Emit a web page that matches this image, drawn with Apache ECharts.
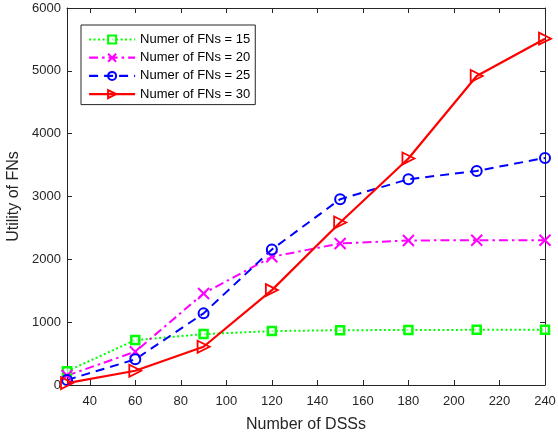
<!DOCTYPE html>
<html>
<head>
<meta charset="utf-8">
<script src="https://cdn.jsdelivr.net/npm/echarts@6/dist/echarts.min.js"></script>
<style>
html,body{margin:0;padding:0;background:#fff;}
#chart{width:558px;height:436px;}
</style>
</head>
<body>
<div id="chart"></div>
<script>
const dss = [30, 60, 90, 120, 150, 180, 210, 240];
const fn15 = [220, 715, 810, 858, 872, 875, 878, 880];
const fn20 = [150, 530, 1457, 2040, 2253, 2300, 2305, 2305];
const fn25 = [80, 408, 1140, 2157, 2957, 3275, 3407, 3614];
const fn30 = [30, 227, 609, 1510, 2586, 3604, 4918, 5512];
const xTicks = [40, 60, 80, 100, 120, 140, 160, 180, 200, 220, 240];
const seriesNames = ['Numer of FNs = 15', 'Numer of FNs = 20', 'Numer of FNs = 25', 'Numer of FNs = 30'];
const xName = 'Number of DSSs';
const yName = 'Utility of FNs';

const FONT = 'Liberation Sans, Arial, Helvetica, sans-serif';
const TXT = '#262626';

function pts(vals) { return dss.map((x, i) => [x, vals[i]]); }

const chart = echarts.init(document.getElementById('chart'), null, {renderer: 'canvas'});

const axisCommon = {
  axisLine: {show: true, onZero: false, lineStyle: {color: TXT, width: 1}},
  splitLine: {show: false}
};

const option = {
  backgroundColor: '#fff',
  animation: false,
  grid: {left: 67, right: 13, top: 8, bottom: 51, containLabel: false, outerBoundsMode: 'none'},
  legend: {
    orient: 'vertical',
    left: 81, top: 25,
    padding: [8, 5, 4, 7],
    itemWidth: 46, itemHeight: 10, itemGap: 5.2,
    borderColor: TXT, borderWidth: 1, backgroundColor: '#fff',
    lineStyle: {width: 2.2},
    textStyle: {fontFamily: FONT, fontSize: 13, color: '#000'},
    data: seriesNames
  },
  xAxis: [
    Object.assign({}, axisCommon, {
      type: 'value', min: 30, max: 240, position: 'bottom',
      axisTick: {show: true, inside: true, length: 5, customValues: xTicks, lineStyle: {color: TXT}},
      axisLabel: {customValues: xTicks, fontFamily: FONT, fontSize: 13, color: TXT, margin: 10},
      name: xName, nameLocation: 'middle', nameGap: 32,
      nameTextStyle: {fontFamily: FONT, fontSize: 16, color: TXT}
    }),
    Object.assign({}, axisCommon, {
      type: 'value', min: 30, max: 240, position: 'top',
      axisTick: {show: true, inside: true, length: 5, customValues: xTicks, lineStyle: {color: TXT}},
      axisLabel: {show: false}
    })
  ],
  yAxis: [
    Object.assign({}, axisCommon, {
      type: 'value', min: 0, max: 6000, interval: 1000, position: 'left',
      axisTick: {show: true, inside: true, length: 5, lineStyle: {color: TXT}},
      axisLabel: {fontFamily: FONT, fontSize: 13, color: TXT, margin: 6, formatter: v => String(v)},
      name: yName, nameLocation: 'middle', nameGap: 41,
      nameTextStyle: {fontFamily: FONT, fontSize: 16, color: TXT}
    }),
    Object.assign({}, axisCommon, {
      type: 'value', min: 0, max: 6000, interval: 1000, position: 'right',
      axisTick: {show: true, inside: true, length: 5, lineStyle: {color: TXT}},
      axisLabel: {show: false}
    })
  ],
  series: [
    {
      name: seriesNames[0], type: 'line', data: pts(fn15),
      symbol: 'rect', symbolSize: 8,
      itemStyle: {color: 'rgba(255,255,255,0.6)', borderColor: '#00ff00', borderWidth: 2.5},
      lineStyle: {color: '#00ff00', width: 2, type: [2, 2.5]}
    },
    {
      name: seriesNames[1], type: 'line', data: pts(fn20),
      symbol: 'path://M0,0L10,10M10,0L0,10', symbolSize: 11,
      itemStyle: {color: 'rgba(0,0,0,0)', borderColor: '#ff00ff', borderWidth: 2},
      lineStyle: {color: '#ff00ff', width: 2, type: [9, 4, 2.5, 4]}
    },
    {
      name: seriesNames[2], type: 'line', data: pts(fn25),
      symbol: 'circle', symbolSize: 10,
      itemStyle: {color: 'rgba(0,0,0,0)', borderColor: '#0000ff', borderWidth: 2},
      lineStyle: {color: '#0000ff', width: 2, type: [9, 6]}
    },
    {
      name: seriesNames[3], type: 'line', data: pts(fn30),
      symbol: 'path://M0,0L10,5L0,10Z', symbolSize: 12,
      itemStyle: {color: 'rgba(0,0,0,0)', borderColor: '#ff0000', borderWidth: 1.8},
      lineStyle: {color: '#ff0000', width: 2.2, type: 'solid'}
    }
  ]
};
chart.setOption(option);
</script>
</body>
</html>
